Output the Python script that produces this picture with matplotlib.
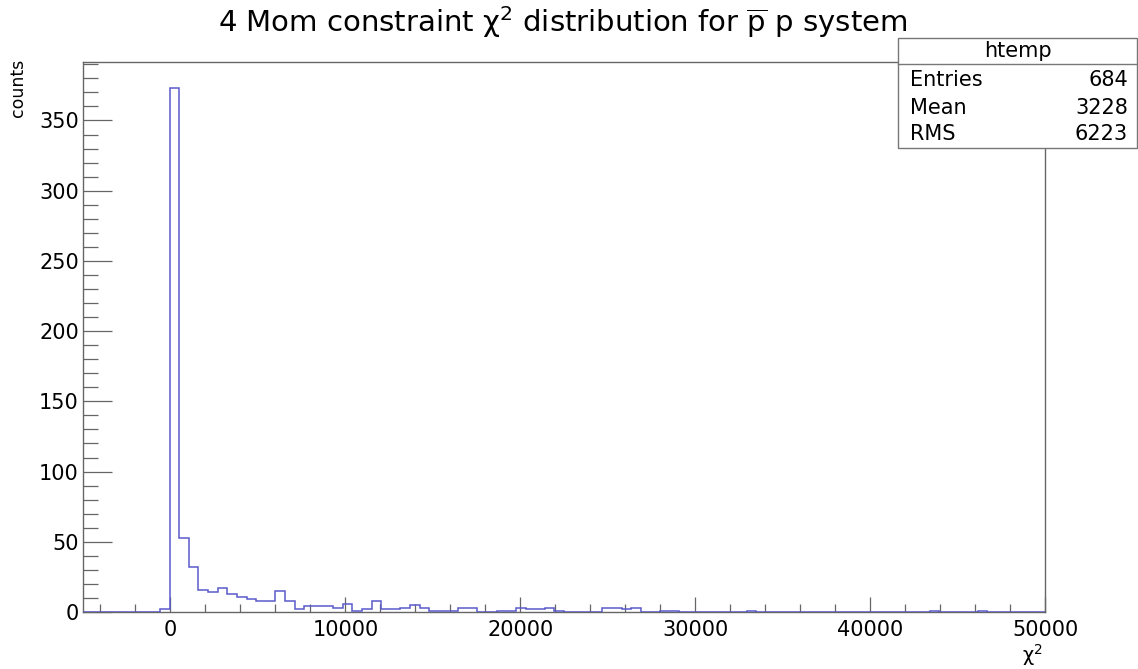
import numpy as np
import matplotlib
matplotlib.use('Agg')
import matplotlib.pyplot as plt
from matplotlib.ticker import MultipleLocator, FuncFormatter
from matplotlib.patches import Rectangle
from matplotlib.lines import Line2D

plt.rcParams['font.family'] = ['DejaVu Sans']
plt.rcParams['mathtext.fontset'] = 'dejavusans'

# ---- data ----
x_min, x_max, n_bins = -5000, 50000, 100
counts = [
    0, 0, 0, 0, 0, 0, 0, 0, 2, 373,
    53, 32, 16, 14, 17, 13, 11, 9, 8, 8,
    15, 8, 2, 4, 4, 4, 3, 6, 1, 2,
    8, 2, 2, 3, 5, 3, 1, 1, 1, 3,
    3, 0, 0, 1, 1, 3, 2, 2, 3, 1,
    0, 0, 0, 0, 3, 3, 2, 3, 0, 0,
    1, 1, 0, 0, 0, 0, 0, 0, 0, 1,
    0, 0, 0, 0, 0, 0, 0, 0, 0, 0,
    0, 0, 0, 0, 0, 0, 0, 0, 1, 0,
    0, 0, 0, 1, 0, 0, 0, 0, 0, 0,
]
title = r'4 Mom constraint $\mathrm{\chi}^2$ distribution for $\overline{\mathrm{p}}$ p system'
x_label = r'$\mathrm{\chi}^2$'
y_label = 'counts'
stats_title = 'htemp'
stats_names = ['Entries', 'Mean', 'RMS']
stats_values = ['684', '3228', '6223']

W, H = 1138, 669
fig = plt.figure(figsize=(W / 100, H / 100), dpi=100)
ax = fig.add_axes([83 / W, 1 - 612 / H, 962 / W, 550 / H])

edges = np.linspace(x_min, x_max, n_bins + 1)
ax.stairs(counts, edges, baseline=0, color='#5a5acc', lw=1.1, zorder=3)

ax.set_xlim(x_min, x_max)
ax.set_ylim(0, max(counts) * 1.05)

frame_c = '#666666'
for s in ax.spines.values():
    s.set_color(frame_c)
    s.set_linewidth(1.0)

ax.xaxis.set_major_locator(MultipleLocator(10000))
ax.xaxis.set_minor_locator(MultipleLocator(2000))
ax.yaxis.set_major_locator(MultipleLocator(50))
ax.yaxis.set_minor_locator(MultipleLocator(10))
ax.tick_params(axis='x', which='major', direction='in', length=10.8, width=0.9,
               color=frame_c, labelsize=15, pad=6, top=False)
ax.tick_params(axis='x', which='minor', direction='in', length=5.8, width=0.9,
               color=frame_c, top=False)
ax.tick_params(axis='y', which='major', direction='in', length=20.9, width=0.9,
               color=frame_c, labelsize=15, pad=3, right=False)
ax.tick_params(axis='y', which='minor', direction='in', length=10.8, width=0.9,
               color=frame_c, right=False)
ax.xaxis.set_major_formatter(FuncFormatter(lambda v, p: f'{int(v)}'))

fig.text(563 / W, 1 - 22 / H, title, ha='center', va='center', fontsize=21)
fig.text(18 / W, 1 - 59 / H, y_label, rotation=90, ha='center', va='top', fontsize=12.5)
fig.text(1043 / W, 1 - 642 / H, x_label, ha='right', va='top', fontsize=14)

# stats box
bx0, bx1 = 898 / W, 1137 / W
by_top, by_sep, by_bot = 1 - 38 / H, 1 - 64 / H, 1 - 148 / H
fig.add_artist(Rectangle((bx0, by_bot), bx1 - bx0, by_top - by_bot, transform=fig.transFigure,
                         facecolor='white', edgecolor='#777777', lw=1.0, zorder=10))
fig.add_artist(Line2D([bx0, bx1], [by_sep, by_sep], transform=fig.transFigure,
                      color='#777777', lw=1.0, zorder=11))
fig.text((bx0 + bx1) / 2, 1 - 51 / H, stats_title, ha='center', va='center', fontsize=15, zorder=12)
row_y = [80, 108, 134]
for name, val, yy in zip(stats_names, stats_values, row_y):
    fig.text(910 / W, 1 - yy / H, name, ha='left', va='center', fontsize=15, zorder=12)
    fig.text(1128 / W, 1 - yy / H, val, ha='right', va='center', fontsize=15, zorder=12)

fig.savefig('out.png', dpi=100)
